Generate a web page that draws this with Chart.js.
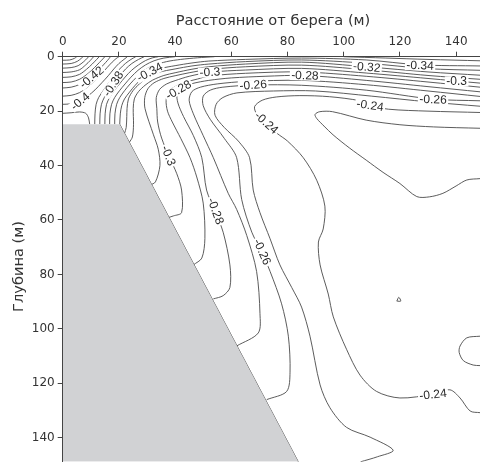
<!DOCTYPE html>
<html><head><meta charset="utf-8">
<script src="https://cdn.jsdelivr.net/npm/chart.js@4.4.1/dist/chart.umd.min.js"></script>
<style>html,body{margin:0;padding:0;background:#fff;overflow:hidden}canvas{display:block}</style>
</head><body><canvas id="c" width="480" height="472"></canvas>
<script>
// ---- axis data ----
const xTicks = [0, 20, 40, 60, 80, 100, 120, 140];
const yTicks = [0, 20, 40, 60, 80, 100, 120, 140];
const xTitle = 'Расстояние от берега (м)';
const yTitle = 'Глубина (м)';

// ---- bank (grey region boundary): [distance, depth] ----
const bank = [[0, 24.8], [20.3, 24.8], [83.85, 148.85]];
const bankSlope = [[20.3, 24.8], [83.85, 148.85]];

// ---- contour lines: [distance m, depth m] ----
const c48 = [[0,1.3],[2.5,1.2],[4.2,0.6],[5,0]];
const c47 = [[0,2.7],[3,2.5],[5.2,1.7],[6.6,0.6],[7.2,0]];
const c46 = [[0,4.2],[3,4.0],[5.5,3.3],[7.5,1.8],[8.8,0.5],[9.2,0]];
const c45 = [[0,5.8],[3,5.6],[6,4.8],[8.2,3],[9.8,1.4],[11,0]];
const c44 = [[0,7.6],[3,7.4],[6,6.5],[8.5,4.6],[10.5,2.7],[12,1.1],[13,0]];
const c43 = [[0,9.5],[3,9.3],[6,8.3],[9,6.2],[11.3,4],[13,2.2],[14.3,0.8],[15,0]];
const c42 = [[0,11.5],[3,11.2],[6,10.2],[10,7.6],[12.5,5.2],[14.5,3],[16,1.3],[17,0]];
const c41 = [[0,14.5],[3,14.2],[6,13.2],[9,11],[11.5,8.7],[13.8,6.3],[15.8,4],[17.6,2],[19,0.7],[20,0]];
const c40 = [[0,17.5],[3,17.3],[6,16.4],[9,14.4],[11.5,12.2],[14,9.5],[16.2,7],[18.2,4.5],[20,2.5],[21.8,1],[23,0]];
const c40b = [[0,20.8],[3,20.6],[6,20.3],[8.2,20.8],[9.2,22.5],[9.6,24.8]];
const c39 = [[11.4,24.8],[11.5,21],[11.9,17.5],[12.8,15],[14.4,12.5],[16.4,9.6],[18.3,7],[20.3,4.5],[22.3,2.5],[24.3,1],[26,0]];
const c38 = [[13.2,24.8],[13.3,21],[13.8,17.5],[14.8,15],[16.4,12.5],[18.6,9.3],[20.3,7],[22.4,4.5],[24.6,2.5],[27,1],[29,0]];
const c37 = [[15,24.8],[15.1,21],[15.6,17.5],[16.7,15],[18.3,12.5],[20.2,10],[22.2,7.5],[24.5,5],[27,3],[29.5,1.4],[32,0.4],[34,0]];
const c36 = [[16.7,24.8],[16.8,21],[17.4,17.5],[18.5,15],[20.2,12.5],[22.2,10],[24.3,7.5],[26.8,5],[29.5,3],[32.5,1.5],[36,0.5],[40,0]];
const c35 = [[18.5,24.8],[18.6,21],[19.2,17.5],[20.3,15],[22,12.5],[24,10],[26.3,7.5],[29,5],[32.5,3.2],[37,1.8],[42,1.0],[48,0.4],[54,0]];
const c35r = [[100,0],[115,0.5],[130,1.0],[148.5,1.5]];
const c34 = [[20.3,24.8],[20.5,21],[21,18],[22,15.5],[23.8,13],[25.8,10.5],[28.2,8],[31,5.8],[35,4.3],[40,3.3],[46,2.3],[52,1.6],[65,1.0],[85,0.5],[108,1.2],[127,3.0],[148.5,3.4]];
const c33 = [[22.0,28.2],[22.6,26],[22.8,22],[22.9,19],[23.4,15.5],[25,12.5],[27.3,10],[30,7.8],[34,5.8],[40,4.5],[46,3.4],[52,2.7],[65,1.8],[85,1.2],[108,2.4],[130,4.4],[148.5,5.0]];
const c32 = [[23.7,31.5],[24.8,29.5],[25.2,25],[25.1,19],[25.5,15.5],[27,12.8],[29.3,10.5],[32,8.6],[36,6.9],[40,5.9],[46,4.6],[52,3.7],[65,2.7],[85,2.0],[108,3.7],[130,5.6],[148.5,6.8]];
const c31 = [[31.1,47.2],[33,46],[34.6,40],[34,34],[32.3,28.7],[29.3,19.1],[29.2,15],[30.3,11.8],[32.5,9.6],[36,8],[40,7.0],[45,5.9],[52,4.7],[65,3.7],[85,3.1],[108,4.8],[130,6.9],[148.5,8.3]];
const c30 = [[37.6,59.1],[39.4,58.5],[42.3,57.3],[42.3,49],[40.6,43],[38,37],[35.2,29.9],[33.8,24],[33.5,19.1],[33.3,15],[34.5,12],[37,10],[40,8.8],[45,7.2],[52.4,5.7],[65,4.9],[85,4.3],[108,6.0],[130,8.0],[148.5,9.7]];
const c29 = [[46.5,76.5],[49.5,74],[50.6,66.8],[50,53.8],[47.7,44.2],[45.3,37.1],[42,30],[39,24],[37.3,20],[36.8,16],[37.8,12.8],[40,11],[44,9.3],[48,8.2],[52,7.1],[65,6.1],[85,5.6],[108,7.2],[130,9.3],[148.5,11.2]];
const c28 = [[53.6,89],[57.1,87.8],[59.5,84.8],[59.5,76.5],[57.1,64.5],[54.2,56.7],[51.2,49],[49.5,37.1],[46.5,29],[43,22],[41,17],[40.7,13.5],[42.5,11.3],[46,9.9],[52,8.7],[60,7.8],[72,7.2],[86,6.9],[108,8.7],[130,11],[148.5,12.9]];
const c27 = [[61.9,106.3],[69.6,101.5],[70.2,94.4],[69,78.9],[65.5,65.7],[61.9,56.1],[58.9,50.2],[53.6,37.1],[50,29],[46.5,21],[45,16],[46,12.8],[49,11.2],[55,10],[65,9.1],[85,8.7],[108,10.3],[130,12.6],[148.5,14.6]];
const c26 = [[72.6,126],[79.7,123],[80.9,115.9],[80.3,102.7],[77.9,90.8],[73.8,78.9],[70.8,71.7],[67.3,64.5],[63.7,52.5],[61.9,37.1],[57.5,30],[52.5,23],[50,18],[50,14.5],[52.5,12.3],[57,11.2],[67.8,10.4],[85,10.5],[108,12.3],[131.8,15.6],[148.5,16.2]];
const c25 = [[106,148.85],[112,147],[117.6,144.6],[109.4,139.8],[101,136.2],[95.1,129],[91.6,120.6],[88,102.7],[85,92],[81.5,84.8],[77.3,76.5],[73.8,66.9],[70.2,57.3],[67.8,49],[66.5,37.1],[62.5,31],[57.5,26],[54.2,21.5],[54.6,17.5],[57,15],[62,13.3],[75,12.6],[90,12.6],[110,14.5],[130,16.6],[148.5,18.2]];
const c24 = [[148.5,130.8],[145,130.2],[141.4,125.4],[137.8,122.4],[131.8,124],[120,125.4],[111.7,123],[105.8,117],[101,107.5],[96.3,95.6],[94.5,87.2],[91.6,76.5],[91,68.1],[92.7,63.3],[93.3,54.9],[90.4,45.4],[85.6,37.1],[80,31],[76.2,28.1],[72.2,24.1],[69,21],[68.3,18.3],[71,16],[76,14.8],[84.4,14.3],[95,14.7],[105.8,16.2],[110,18],[116,19.3],[130,20],[148.5,20.5]];
const c23 = [[148.5,26.3],[132,25.8],[120,25],[108,23.3],[96,20.2],[91.5,20.2],[89.8,21.2],[90.4,22.7],[93,25.5],[96.2,28.7],[102,33.5],[108,38],[114,42.5],[120,46.6],[126,51.4],[130.5,51.5],[135.3,50.2],[140,47.5],[143.8,45.3],[148.5,44.8]];
const c23b = [[148.5,102.7],[143.8,103.3],[141.4,106.3],[141.1,108.7],[142.6,111.7],[146.1,113.3],[148.5,113.5]];
const c23c = [[118.9,89.8],[120.3,89.8],[119.6,88.4],[118.9,89.8]];

const contours = [c48,c47,c46,c45,c44,c43,c42,c41,c40,c40b,c39,c38,c37,c36,c35,c35r,c34,c33,c32,c31,c30,c29,c28,c27,c26,c25,c24,c23,c23b,c23c];

// ---- contour labels ----
const labelText  = ['-0.42','-0.4','-0.38','-0.34','-0.3','-0.28','-0.26','-0.28','-0.24','-0.32','-0.34','-0.3','-0.26','-0.24','-0.3','-0.28','-0.26','-0.24'];
const labelX     = [10.3, 6.2, 18.0, 31.0, 52.4, 41.2, 67.8, 86.2, 72.5, 108.2, 127.2, 140.2, 131.8, 109.4, 37.6, 54.4, 71.0, 131.8];
const labelD     = [7.6, 16.4, 10.0, 5.7, 5.7, 12.2, 10.4, 6.9, 24.3, 3.8, 3.2, 9.1, 15.7, 17.9, 36.4, 56.7, 71.7, 124.1];
const labelAngle = [-40, -40, -57, -28, -3, -30, -4, 2, 42, 5, 2, 0, 2, 8, 68, 70, 66, -6];

const LABEL_FONT = '"Liberation Sans", Arial, sans-serif';
const AXIS_FONT = '"DejaVu Sans", sans-serif';
const LINE = '#4a4a4a';

const datasets = [{
  data: bank.map(p => ({x: p[0], y: p[1]})),
  showLine: true, pointRadius: 0, borderWidth: 0, tension: 0,
  borderColor: 'rgba(0,0,0,0)',
  backgroundColor: '#d1d2d4',
  fill: {value: 148.85},
  order: 0
}, {
  data: bankSlope.map(p => ({x: p[0], y: p[1]})),
  showLine: true, pointRadius: 0, borderWidth: 1, tension: 0,
  borderColor: '#555', fill: false, order: 0
}];
contours.forEach(line => datasets.push({
  data: line.map(p => ({x: p[0], y: p[1]})),
  showLine: true, pointRadius: 0, borderWidth: 0.9, borderColor: LINE,
  tension: 0.3, fill: false, order: 1
}));

const decor = {
  id: 'decor',
  afterDatasetsDraw(chart) {
    const {ctx, chartArea: a, scales: {x, y}} = chart;
    ctx.save();
    ctx.beginPath(); ctx.rect(a.left, a.top, a.right - a.left, a.bottom - a.top); ctx.clip();
    ctx.font = '12px ' + LABEL_FONT;
    ctx.textAlign = 'center'; ctx.textBaseline = 'middle';
    for (let i = 0; i < labelText.length; i++) {
      const px = x.getPixelForValue(labelX[i]), py = y.getPixelForValue(labelD[i]);
      ctx.save(); ctx.translate(px, py); ctx.rotate(labelAngle[i] * Math.PI / 180);
      const w = ctx.measureText(labelText[i]).width;
      ctx.fillStyle = '#fff'; ctx.fillRect(-w / 2 - 1.5, -5, w + 3, 10);
      ctx.fillStyle = '#2a2a2a'; ctx.fillText(labelText[i], 0, 0.5);
      ctx.restore();
    }
    ctx.restore();
    ctx.save();
    ctx.fillStyle = '#333'; ctx.font = '14.6px ' + AXIS_FONT;
    ctx.textAlign = 'center'; ctx.textBaseline = 'middle';
    ctx.fillText(xTitle, 273, 21);
    ctx.translate(19, 266.5); ctx.rotate(-Math.PI / 2);
    ctx.fillText(yTitle, 0, 0);
    ctx.restore();
  }
};

const tickFont = {family: AXIS_FONT, size: 12};
new Chart(document.getElementById('c'), {
  type: 'scatter',
  data: {datasets},
  options: {
    responsive: false, animation: false, devicePixelRatio: 1,
    layout: {padding: 0},
    plugins: {legend: {display: false}, tooltip: {enabled: false}},
    scales: {
      x: {
        type: 'linear', position: 'top', min: 0, max: 148.5,
        afterFit(s) { s.height = 56.7; },
        afterBuildTicks(s) { s.ticks = xTicks.map(v => ({value: v})); },
        grid: {drawOnChartArea: false, tickLength: 5, color: '#444'},
        border: {color: '#444', width: 1, z: 2},
        ticks: {color: '#333', font: tickFont, padding: 3, maxRotation: 0, autoSkip: false}
      },
      y: {
        type: 'linear', reverse: true, min: 0, max: 148.85,
        afterFit(s) { s.width = 62.7; },
        afterBuildTicks(s) { s.ticks = yTicks.map(v => ({value: v})); },
        grid: {drawOnChartArea: false, tickLength: 5, color: '#444'},
        border: {color: '#444', width: 1, z: 2},
        ticks: {color: '#333', font: tickFont, padding: 3, autoSkip: false}
      }
    }
  },
  plugins: [decor]
});
</script>
</body></html>
